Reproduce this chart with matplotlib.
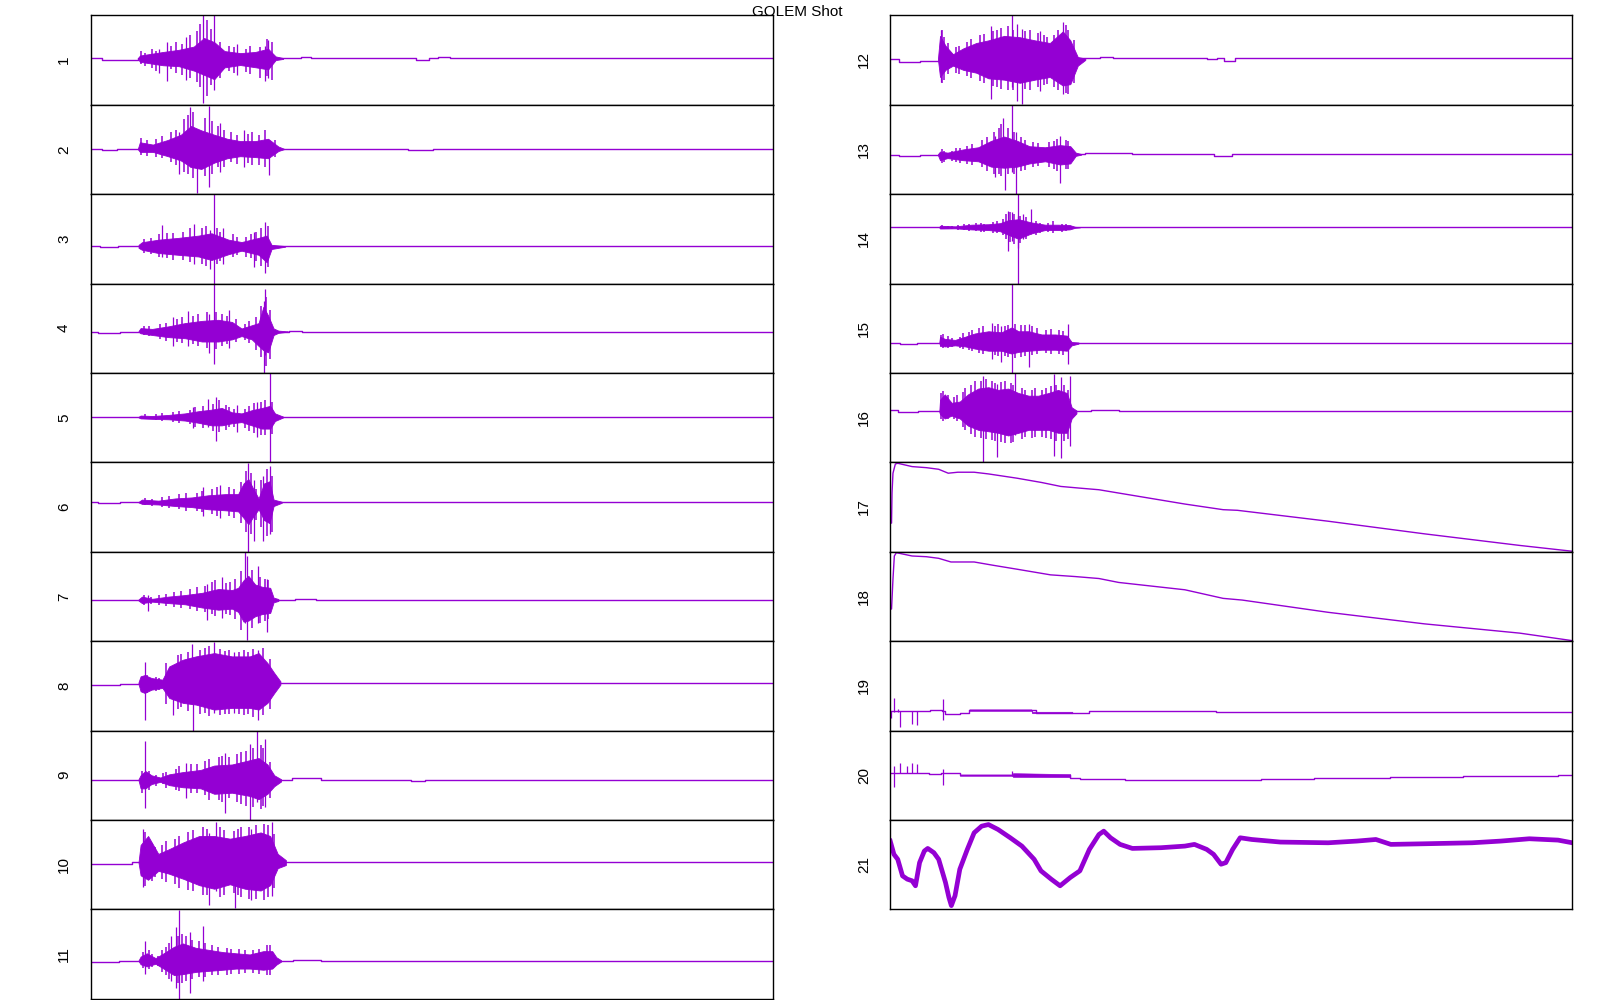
import matplotlib
matplotlib.use("Agg")
import matplotlib.pyplot as plt

# time in % of record, amplitude in % of the panel's autoscaled range
# env = dense core of each burst, spk = tallest single spikes, nz = other visible spikes
p1_base_t = [0, 1.6, 3.8, 6.9, 30.8, 32.3, 47.7, 49.6, 50.9, 52.6, 100]
p1_base_y = [51.7, 49.5, 50.5, 51.7, 53, 51.7, 50.5, 51.7, 53, 51.7, 51.7]
p1_env_t = [6.9, 7.2, 10.6, 12.9, 15.1, 16.6, 18.1, 19.6, 21.9, 24.1, 26.0, 27.1, 28.2]
p1_env_hi = [52, 55, 59, 61.4, 65, 74.6, 70, 60, 57.7, 59, 62.6, 54, 52.2]
p1_env_lo = [51.6, 48, 44.1, 43.1, 38.2, 33.4, 28.5, 41.7, 44.4, 41.9, 39.5, 49.9, 51.2]
p1_spk_t = [16.4, 18.1, 11.2, 21.5, 25.5, 26.0, 10.0, 14.0]
p1_spk_hi = [100, 100, 70, 68, 66, 72, 62, 76]
p1_spk_lo = [1.5, 16, 27, 33, 27, 30, 36, 28]
p1_nz_t = [7.3, 8.0, 9.0, 9.6, 11.8, 12.5, 13.4, 14.5, 15.6, 16.0, 17.0, 17.6, 19.0, 20.3, 21.0, 22.7, 23.4, 24.8, 25.8, 26.5]
p1_nz_hi = [60, 58, 62, 60, 66, 70, 68, 78, 82, 90, 95, 85, 70, 66, 64, 62, 66, 64, 74, 70]
p1_nz_lo = [45, 43, 41, 38, 40, 36, 33, 30, 25, 20, 10, 22, 30, 38, 35, 37, 34, 30, 32, 28]

p2_base_t = [0, 1.6, 3.9, 46.5, 50.2, 100]
p2_base_y = [50.5, 49.4, 50.5, 49, 50.5, 50.5]
p2_env_t = [6.9, 7.2, 9.1, 11.3, 13.2, 14.7, 16.2, 18.1, 20.0, 21.9, 24.1, 26.0, 27.5, 28.3]
p2_env_hi = [50.8, 58, 55.4, 60.6, 66.4, 76.2, 71.3, 66.4, 61.9, 59.3, 59.3, 61.9, 53.2, 50.8]
p2_env_lo = [50.2, 47.2, 47.2, 42.4, 37.6, 30.3, 28.1, 35.2, 40.1, 42.4, 41.4, 40.1, 48.2, 50.2]
p2_spk_t = [14.6, 15.6, 17.3, 13.0, 26.1, 19.0, 22.5]
p2_spk_hi = [97, 60, 99, 70, 60, 80, 72]
p2_spk_lo = [30, 1, 8, 23, 21, 25, 30]
p2_nz_t = [7.4, 8.2, 9.6, 10.4, 11.8, 12.5, 13.7, 14.2, 15.0, 16.8, 17.7, 18.7, 19.5, 20.5, 21.4, 23.0, 23.6, 24.7, 25.5, 27.0]
p2_nz_hi = [63, 60, 62, 65, 70, 72, 84, 88, 92, 85, 82, 76, 72, 70, 66, 67, 70, 66, 72, 60]
p2_nz_lo = [44, 43, 42, 40, 36, 33, 25, 22, 18, 20, 22, 30, 30, 36, 34, 35, 33, 33, 30, 42]

p3_base_t = [0, 1.4, 4.0, 100]
p3_base_y = [41.6, 40.4, 41.6, 41.6]
p3_env_t = [7.0, 7.5, 9.9, 12.8, 15.8, 17.7, 20.2, 22.1, 24.6, 25.8, 26.5, 28.5]
p3_env_hi = [43.2, 46.2, 49, 51, 53.6, 56.2, 49, 46.4, 51, 53.6, 43.2, 41.9]
p3_env_lo = [39.9, 37.7, 34.1, 32.1, 30.2, 26.3, 32.8, 36.7, 32.1, 23.7, 38.6, 41.2]
p3_spk_t = [18.0, 10.4, 25.6, 17.5, 23.9, 15.2, 19.4]
p3_spk_hi = [100, 65.5, 68.5, 60, 58, 66, 62]
p3_spk_lo = [0, 30, 12, 16, 19, 22, 22]
p3_nz_t = [7.8, 8.8, 10.0, 11.2, 12.0, 13.5, 14.5, 16.3, 16.9, 18.5, 19.0, 20.8, 21.5, 22.8, 23.5, 24.2, 25.0, 26.0]
p3_nz_hi = [50, 51, 55, 57, 56, 58, 62, 62, 64, 62, 58, 55, 52, 52, 55, 58, 62, 64]
p3_nz_lo = [34, 33, 30, 28, 26, 26, 24, 22, 20, 22, 25, 30, 32, 30, 28, 25, 20, 18]

p4_base_t = [0, 1.1, 4.3, 29, 31, 100]
p4_base_y = [46.3, 45.1, 46.3, 46.6, 46.3, 46.3]
p4_env_t = [7.0, 7.3, 9.0, 11.4, 13.8, 16.3, 18.7, 20.7, 22.1, 23.6, 24.6, 25.3, 26.0, 26.8, 27.5, 28.9]
p4_env_hi = [46.8, 50.1, 49.2, 52.1, 55.7, 58.2, 59.4, 57, 49.7, 53.3, 55.7, 73.9, 64.2, 49.7, 47.3, 46.4]
p4_env_lo = [46.1, 44.3, 42.4, 40, 38.8, 35.1, 35.1, 37.5, 41.2, 37.5, 30.2, 25.4, 23, 42.4, 44.8, 46.1]
p4_spk_t = [18.0, 25.6, 25.4, 14.3, 17.4, 20.2, 12.0]
p4_spk_hi = [100, 94.4, 80, 69.4, 66, 70.9, 62]
p4_spk_lo = [10.4, 20, 0, 30, 22.4, 28, 30]
p4_nz_t = [7.8, 8.5, 10.2, 11.0, 12.6, 13.3, 15.0, 15.7, 17.0, 18.4, 19.3, 20.0, 21.3, 22.6, 23.2, 24.2, 24.9, 25.7, 26.3]
p4_nz_hi = [53, 52, 55, 56, 60, 62, 64, 66, 68, 68, 66, 64, 60, 55, 58, 62, 75, 85, 70]
p4_nz_lo = [42, 41, 38, 36, 35, 33, 32, 30, 28, 27, 30, 32, 35, 37, 33, 26, 18, 8, 15]

p5_base_t = [0, 100]
p5_base_y = [50.6, 50.6]
p5_env_t = [7.0, 7.3, 9.0, 11.4, 13.8, 15.8, 17.7, 19.2, 20.7, 22.1, 23.6, 25.1, 26.3, 27.0, 28.2]
p5_env_hi = [50.9, 52.3, 51.8, 53, 54.7, 57.2, 58.9, 60.8, 55.9, 54.7, 58.3, 60.8, 63.2, 54.7, 51.1]
p5_env_lo = [50.2, 49.1, 48.6, 48.1, 46.7, 44.2, 41.3, 41.3, 43.7, 45, 41.3, 37.7, 37.7, 46.2, 50.2]
p5_spk_t = [26.3, 18.3, 17.2, 15.0, 24.4, 21.5]
p5_spk_hi = [100, 73, 70.8, 62, 68, 64]
p5_spk_lo = [0, 24.3, 40, 38, 28, 34]
p5_nz_t = [8.0, 9.5, 10.5, 12.0, 13.0, 14.5, 15.3, 16.5, 17.9, 18.8, 19.8, 20.3, 21.0, 22.6, 23.2, 24.0, 24.9, 25.6, 26.6]
p5_nz_hi = [54, 54, 55, 56, 57, 59, 62, 63, 65, 70, 64, 62, 60, 60, 63, 66, 68, 70, 68]
p5_nz_lo = [48, 47, 46, 45, 44, 43, 40, 38, 35, 34, 36, 39, 40, 38, 35, 33, 30, 30, 32]

p6_base_t = [0, 1.1, 4.3, 100]
p6_base_y = [55.2, 54.4, 55.2, 55.2]
p6_env_t = [7.0, 7.5, 9.9, 12.4, 14.8, 17.2, 19.7, 21.6, 22.4, 23.1, 23.9, 24.6, 25.4, 26.2, 26.8, 28.0]
p6_env_hi = [55.7, 58.3, 57.1, 59.6, 60.7, 63.1, 64.4, 64.4, 76.4, 81.2, 69.2, 59.6, 76.4, 78.8, 58.3, 55.9]
p6_env_lo = [55.1, 53.5, 52.8, 51.1, 49.9, 47.5, 46.3, 45.1, 37.8, 30.6, 40.2, 47.5, 35.4, 31.9, 51.1, 54.7]
p6_spk_t = [23.1, 26.2, 23.9, 25.2, 19.0, 16.5]
p6_spk_hi = [99, 96, 80, 85, 75, 72]
p6_spk_lo = [0, 20, 11.9, 12, 38, 40]
p6_nz_t = [8.0, 9.0, 10.5, 11.5, 13.0, 14.0, 15.5, 16.3, 17.8, 18.5, 20.2, 21.0, 22.0, 22.7, 23.5, 24.2, 25.0, 25.8, 26.5]
p6_nz_hi = [60, 59, 61, 62, 64, 66, 66, 68, 70, 72, 72, 70, 78, 90, 88, 70, 80, 92, 85]
p6_nz_lo = [52, 51, 50, 49, 48, 46, 45, 44, 42, 40, 40, 38, 32, 22, 20, 36, 28, 18, 22]

p7_base_t = [0, 30, 33, 100]
p7_base_y = [45.9, 47, 45.9, 45.9]
p7_env_t = [7.0, 7.5, 9.0, 11.4, 13.8, 16.3, 18.7, 20.7, 21.6, 22.4, 23.1, 24.1, 25.1, 26.3, 26.8, 27.5]
p7_env_hi = [46.6, 49.8, 47.3, 49.8, 51.5, 54, 58.3, 57.1, 59.6, 68.1, 73, 63.3, 60.8, 59.6, 48.6, 47.1]
p7_env_lo = [45.3, 42.5, 44.1, 42.5, 41.2, 37.6, 35.1, 36.3, 32.7, 21.7, 22.9, 27.8, 30.2, 31.5, 43.4, 44.9]
p7_spk_t = [22.6, 22.9, 24.5, 25.8, 8.4, 19.2, 17.0]
p7_spk_hi = [100, 95, 83.8, 70, 52, 72, 64]
p7_spk_lo = [20, 1, 20, 10.5, 34.2, 26, 24]
p7_nz_t = [7.8, 8.8, 10.0, 11.0, 12.2, 13.2, 14.5, 15.5, 16.8, 17.8, 18.2, 19.8, 20.4, 21.2, 22.0, 23.6, 24.8, 25.5, 26.0]
p7_nz_hi = [52, 49, 52, 53, 55, 56, 58, 60, 62, 66, 68, 65, 66, 70, 78, 80, 72, 70, 68]
p7_nz_lo = [40, 42, 40, 39, 38, 37, 36, 34, 32, 30, 28, 30, 29, 25, 12, 15, 20, 22, 25]

p8_base_t = [0, 4.3, 7.0, 100]
p8_base_y = [51.3, 52.5, 53.2, 53.2]
p8_env_t = [7.0, 7.3, 7.9, 8.9, 10.5, 11.5, 13.5, 15.4, 18.1, 20.7, 23.3, 24.6, 25.9, 26.9, 27.8]
p8_env_hi = [54, 60.6, 62, 58.7, 56.9, 71.7, 79.2, 82.9, 86.6, 82.9, 82.9, 86.6, 75.5, 64.3, 55]
p8_env_lo = [52, 43.9, 42, 45.7, 47.6, 36.4, 30.9, 29, 23.4, 25.3, 25.3, 23.4, 30.9, 42, 51.3]
p8_spk_t = [7.9, 14.8, 15.0, 18.0, 12.0, 24.5, 21.0]
p8_spk_hi = [77, 97, 60, 99.3, 70, 90, 88]
p8_spk_lo = [12.3, 30, 0, 20, 17.8, 12.3, 20]
p8_nz_t = [8.3, 9.5, 10.0, 11.0, 12.8, 13.2, 14.2, 16.0, 16.8, 17.4, 19.0, 19.7, 20.2, 21.7, 22.4, 23.0, 23.8, 25.2, 26.2]
p8_nz_hi = [62, 60, 59, 76, 84, 86, 88, 90, 92, 94, 91, 89, 90, 88, 90, 88, 91, 92, 80]
p8_nz_lo = [42, 44, 45, 30, 24, 26, 22, 18, 20, 16, 17, 19, 18, 18, 17, 19, 15, 17, 24]

p9_base_t = [0, 29.5, 33.8, 47, 49, 100]
p9_base_y = [44.8, 46.7, 44.8, 43.8, 44.8, 44.8]
p9_env_t = [7.0, 7.3, 8.0, 8.9, 10.2, 11.5, 13.5, 16.1, 18.1, 20.7, 23.3, 24.6, 25.9, 26.9, 27.9]
p9_env_hi = [45.6, 49.9, 54.7, 49.9, 47.4, 51, 53.5, 55.9, 60.8, 62, 66.8, 69.2, 62, 49.9, 45.5]
p9_env_lo = [44.3, 35.3, 35.2, 40.1, 42.6, 38.9, 36.5, 35.3, 29.2, 30.4, 26.8, 23.2, 29.2, 37.7, 43]
p9_spk_t = [8.0, 24.3, 23.3, 19.7, 25.5, 14.0]
p9_spk_hi = [88.8, 99.2, 85, 75, 90, 64]
p9_spk_lo = [13.4, 20, 0.3, 7.8, 14, 25]
p9_nz_t = [7.5, 8.5, 9.5, 10.6, 11.0, 12.5, 13.0, 14.7, 15.5, 16.8, 17.4, 18.8, 19.3, 20.2, 21.4, 22.0, 22.7, 23.8, 24.9, 25.3, 26.3]
p9_nz_hi = [55, 55, 50, 52, 54, 57, 60, 62, 63, 66, 68, 70, 72, 70, 74, 76, 77, 80, 84, 80, 65]
p9_nz_lo = [30, 34, 38, 40, 36, 33, 32, 30, 30, 28, 22, 22, 20, 24, 20, 18, 16, 14, 12, 16, 25]

p10_base_t = [0, 6.0, 100]
p10_base_y = [51, 52.5, 52.5]
p10_env_t = [7.0, 7.3, 8.4, 9.9, 11.4, 13.6, 15.9, 18.1, 20.4, 22.6, 24.9, 26.3, 27.4, 28.6]
p10_env_hi = [53, 72, 82, 62, 67, 75, 82, 82, 79, 82, 86, 82, 62, 55]
p10_env_lo = [52, 38, 33, 43, 40, 34, 27, 23, 28, 23, 21, 27, 46, 49.5]
p10_spk_t = [18.4, 21.1, 26.6, 17.4, 7.6, 23.5]
p10_spk_hi = [98, 80, 98, 85, 90, 90]
p10_spk_lo = [20, 1, 15, 5, 25, 10]
p10_nz_t = [7.9, 8.9, 9.4, 10.4, 11.0, 12.3, 13.0, 14.3, 15.0, 16.4, 17.0, 18.9, 19.5, 21.0, 21.6, 22.0, 23.2, 24.2, 25.4, 26.0, 26.9]
p10_nz_hi = [86, 74, 70, 72, 76, 79, 82, 86, 89, 92, 90, 92, 89, 88, 90, 92, 92, 94, 95, 94, 84]
p10_nz_lo = [26, 32, 36, 34, 30, 28, 24, 22, 20, 16, 16, 14, 16, 18, 16, 14, 12, 11, 10, 14, 24]

p11_base_t = [0, 4.1, 29.6, 33.8, 100]
p11_base_y = [41.2, 42.5, 43.6, 42.5, 42.5]
p11_env_t = [7.0, 7.3, 8.2, 9.5, 11.2, 12.2, 13.5, 15.4, 17.4, 19.4, 21.3, 23.3, 25.3, 26.6, 27.2, 27.9]
p11_env_hi = [42.8, 47.1, 50.8, 45.4, 53.2, 58.1, 61.8, 56.9, 54.5, 52.1, 50.8, 49.5, 53.2, 53.2, 46.4, 43]
p11_env_lo = [42.2, 38.5, 36.1, 39.1, 31.2, 26.4, 27.5, 30, 31.2, 32.4, 33.7, 33.7, 32.4, 33.7, 38.1, 41.5]
p11_spk_t = [13.0, 12.5, 14.6, 16.5, 8.0, 11.8]
p11_spk_hi = [99.5, 80, 75, 81.5, 64, 70]
p11_spk_lo = [0, 12, 6.4, 20, 28, 20]
p11_nz_t = [7.6, 8.6, 9.0, 9.9, 10.5, 11.0, 11.5, 12.8, 13.3, 14.0, 14.9, 15.8, 16.8, 17.8, 18.6, 19.9, 20.6, 21.8, 22.6, 23.8, 24.6, 25.8, 26.3]
p11_nz_hi = [52, 54, 50, 48, 55, 58, 62, 70, 72, 70, 66, 64, 62, 60, 58, 57, 56, 56, 54, 54, 56, 60, 60]
p11_nz_lo = [34, 33, 36, 37, 30, 26, 22, 18, 18, 20, 22, 24, 24, 26, 26, 27, 28, 28, 29, 29, 28, 26, 27]

p12_base_t = [0, 1.35, 4.3, 7.1, 30.8, 32.6, 46.4, 47.9, 49.0, 50.5, 100]
p12_base_y = [50.6, 47.9, 49.4, 51.7, 52.8, 51.7, 50.6, 51.7, 49.4, 51.7, 51.7]
p12_env_t = [7.0, 7.3, 8.1, 9.2, 10.7, 12.6, 14.4, 16.7, 19.0, 21.2, 23.4, 25.3, 26.4, 27.5, 28.6]
p12_env_hi = [52, 77, 66, 56.5, 63, 69, 72, 77, 75.5, 72, 69, 82, 72, 53.3, 51.7]
p12_env_lo = [50.2, 31, 39, 43.7, 39, 35.8, 29.5, 28, 24.5, 28, 31, 21.5, 23, 43.7, 50.1]
p12_spk_t = [17.8, 19.3, 14.7, 25.3, 7.5, 21.9, 18.6]
p12_spk_hi = [100, 85, 88, 92, 84, 82, 90]
p12_spk_lo = [20, 1.1, 6.7, 12, 25, 15, 4]
p12_nz_t = [7.6, 7.9, 8.5, 9.6, 10.1, 11.2, 11.9, 13.1, 13.7, 15.0, 15.6, 16.2, 17.3, 18.0, 19.8, 20.5, 21.6, 22.5, 23.0, 24.0, 24.6, 25.8, 26.0, 26.9]
p12_nz_hi = [84, 76, 69, 64, 66, 70, 74, 78, 79, 82, 84, 86, 88, 84, 82, 84, 80, 78, 76, 78, 84, 89, 84, 72]
p12_nz_lo = [24, 28, 34, 36, 34, 32, 30, 26, 24, 21, 20, 18, 16, 16, 18, 16, 20, 22, 23, 20, 16, 13, 12, 24]

p13_base_t = [0, 1.35, 4.3, 7.1, 28.6, 35.4, 47.5, 50.1, 72.4, 100]
p13_base_y = [43.7, 42.6, 44, 44.4, 45.9, 44.4, 43, 45, 44.4, 44.4]
p13_env_t = [7.0, 7.3, 8.4, 10.7, 12.9, 14.8, 16.7, 18.6, 20.4, 22.7, 24.9, 26.4, 27.2, 28.0]
p13_env_hi = [44.8, 47.6, 46.4, 50, 52.4, 59.6, 64.4, 59.6, 53.6, 52.4, 54.8, 53.6, 46.4, 44.8]
p13_env_lo = [43.5, 37.9, 40.3, 37.9, 36.7, 30.7, 29.5, 30.7, 34.3, 36.7, 33.1, 34.3, 42.8, 44.1]
p13_spk_t = [17.8, 18.5, 16.6, 16.8, 15.3, 24.9]
p13_spk_hi = [100, 70, 85.6, 60, 65, 64.8]
p13_spk_lo = [25, 0, 30, 4.8, 19.6, 12.2]
p13_nz_t = [7.6, 7.9, 9.0, 9.7, 10.2, 11.3, 12.0, 13.5, 14.2, 15.2, 15.9, 16.3, 17.2, 18.2, 19.2, 19.8, 21.0, 21.7, 23.3, 24.0, 24.5, 25.7, 26.1]
p13_nz_hi = [50, 48, 48, 52, 52, 54, 56, 60, 64, 70, 74, 78, 74, 70, 64, 60, 58, 57, 58, 59, 62, 60, 59]
p13_nz_lo = [35, 36, 37, 36, 35, 34, 33, 30, 26, 22, 22, 20, 22, 22, 26, 27, 30, 31, 30, 28, 26, 28, 28]

p14_base_t = [0, 100]
p14_base_y = [62.9, 62.9]
p14_env_t = [7.2, 7.3, 9.5, 11.9, 14.4, 16.1, 17.3, 18.8, 20.7, 22.7, 24.6, 26.3, 27.1, 27.8]
p14_env_hi = [63.3, 64.6, 63.9, 65.8, 66.3, 67.5, 70.8, 71.9, 68.3, 65.8, 65.8, 65.4, 63.4, 63.1]
p14_env_lo = [62.6, 61.5, 61.7, 60.5, 59.8, 58.5, 54.5, 50, 56.1, 59.8, 59.8, 60.5, 62.3, 62.7]
p14_spk_t = [18.7, 20.7, 17.2, 18.8, 17.8, 19.5]
p14_spk_hi = [100, 83.5, 81.6, 76, 80, 78]
p14_spk_lo = [0, 55, 36.7, 39.3, 48, 50]
p14_nz_t = [7.6, 8.4, 9.0, 10.0, 10.8, 11.5, 12.5, 13.3, 13.8, 15.0, 15.6, 16.6, 17.0, 17.5, 18.2, 19.0, 19.9, 21.3, 22.0, 23.2, 23.8, 25.2, 25.8]
p14_nz_hi = [65, 64, 64, 65, 66, 67, 68, 68, 67, 69, 70, 72, 78, 80, 78, 76, 74, 70, 68, 68, 70, 67, 67]
p14_nz_lo = [61, 61, 61, 60, 60, 59, 59, 58, 58, 57, 56, 54, 50, 46, 44, 45, 50, 54, 56, 58, 57, 58, 59]

p15_base_t = [0, 1.4, 3.9, 100]
p15_base_y = [34, 32.8, 34, 34]
p15_env_t = [7.2, 7.3, 8.0, 9.5, 11.0, 12.4, 14.4, 16.3, 17.8, 18.8, 20.3, 22.2, 24.2, 25.9, 26.6, 27.6]
p15_env_hi = [34.7, 40.5, 38.1, 36.9, 40.5, 44.1, 46.6, 45.4, 50.9, 46.6, 46.6, 43, 43, 41.7, 34.5, 34]
p15_env_lo = [33.3, 30.8, 29.6, 30.8, 29.6, 27.2, 24.8, 24.8, 21.6, 23.5, 24.8, 25.9, 25.9, 24.8, 30.8, 32.7]
p15_spk_t = [17.8, 14.9, 20.3, 26.0, 16.2]
p15_spk_hi = [98.9, 56.3, 55, 55, 52]
p15_spk_lo = [0, 15, 6.7, 9.7, 12]
p15_nz_t = [7.5, 7.7, 8.5, 9.0, 10.2, 10.6, 11.6, 12.0, 13.0, 13.6, 15.3, 15.8, 16.8, 17.3, 18.3, 19.2, 19.8, 20.8, 21.5, 22.8, 23.5, 24.7, 25.4]
p15_nz_hi = [42, 44, 41, 39, 40, 45, 46, 48, 50, 52, 53, 55, 52, 54, 55, 54, 54, 52, 50, 48, 49, 48, 47]
p15_nz_lo = [29, 28, 28, 29, 28, 27, 26, 24, 22, 21, 20, 19, 19, 18, 17, 18, 19, 20, 21, 22, 21, 21, 20]

p16_base_t = [0, 1.1, 4.1, 7.2, 29.5, 33.5, 100]
p16_base_y = [58.8, 56.2, 57.8, 57.3, 58.4, 57.3, 57.3]
p16_env_t = [7.2, 7.3, 8.0, 9.0, 10.2, 11.4, 12.9, 14.4, 15.8, 17.3, 18.8, 20.3, 21.7, 23.2, 24.6, 25.9, 26.6, 27.3]
p16_env_hi = [58, 70, 76, 66.5, 68, 76, 82.5, 84, 81, 82.5, 77.5, 74.5, 74.5, 77.5, 81, 77.5, 61.5, 58]
p16_env_lo = [56.2, 53.8, 49, 52.2, 49, 41, 36.3, 34.7, 33, 30, 33, 36.3, 36.3, 36.3, 33, 33, 49, 54.7]
p16_spk_t = [13.6, 18.3, 24.0, 25.0, 15.7, 26.4]
p16_spk_hi = [97, 100, 99.3, 95, 88, 96]
p16_spk_lo = [0.7, 30, 7.1, 4.5, 5.6, 18.4]
p16_nz_t = [7.5, 7.8, 8.5, 9.4, 9.8, 10.7, 11.0, 11.9, 12.4, 13.3, 14.0, 14.9, 15.3, 16.3, 16.8, 17.7, 18.0, 19.3, 19.8, 20.8, 21.2, 22.3, 22.8, 23.6, 24.3, 25.5, 26.0]
p16_nz_hi = [78, 80, 75, 73, 75, 79, 83, 87, 91, 91, 93, 91, 89, 90, 91, 89, 87, 83, 81, 81, 83, 81, 83, 85, 87, 87, 81]
p16_nz_lo = [48, 46, 48, 48, 46, 40, 36, 32, 28, 27, 26, 25, 24, 23, 22, 22, 23, 26, 28, 27, 28, 28, 27, 26, 24, 24, 26]

p17_t = [0, 0.19, 0.26, 0.4, 0.75, 1.1, 3.2, 5.3, 7.1, 8.5, 9.9, 12.3, 14.4, 18.6, 22.2,
         25.0, 27.8, 30.6, 33.5, 43.2, 48.8, 50.9, 64.2, 78.3, 92.3, 100]
p17_y = [32, 32, 65.6, 87.8, 98.1, 98.9, 95.2, 94, 92.2, 87.8, 88.9, 88.9, 87, 82.2, 77.4,
         73, 71.1, 69.3, 65.6, 53.3, 47, 46.3, 34.1, 20, 7, 0.5]

p18_t = [0, 0.19, 0.4, 0.6, 0.9, 3.2, 5.3, 7.1, 8.9, 12.3, 15.1, 18.6, 23.5, 27.1, 30.6,
         33.5, 43.2, 48.8, 51.6, 64.2, 78.3, 92.3, 100]
p18_y = [35.9, 35.9, 69.3, 95.2, 98.9, 95.2, 94.4, 92.6, 88.5, 88.5, 84.8, 80.4, 74.1, 72.2,
         70, 65.6, 57.4, 47.8, 45.9, 32.2, 19.3, 8.9, 0.5]

p19_t = [0, 5.7, 5.9, 6.7, 7.6, 8.1, 10.2, 11.6, 20.7, 21.4, 26.7, 29.2, 47.8, 49.9, 100]
p19_y = [21.5, 21.5, 23, 23, 21.5, 18.5, 19.5, 22.6, 22.6, 20, 20, 21.5, 20.4, 21.1, 21.1]
p19_band_t = [11.6, 20.7, 20.8, 26.7]
p19_band_hi = [23.6, 23.6, 21, 21]
p19_band_lo = [22, 22, 19.3, 19.3]
p19_spk_t = [0.1, 0.6, 1.1, 1.5, 3.2, 3.9, 7.8]
p19_spk_hi = [21.5, 35.9, 23.7, 21.5, 21.5, 21.5, 34.8]
p19_spk_lo = [14.4, 21, 21, 4.1, 7, 6.3, 11.9]

p20_t = [0, 5.7, 7.4, 8.1, 10.2, 17.9, 26.4, 27.8, 34.4, 54.4, 62.1, 73.3, 83.9, 97.9, 100]
p20_y = [52.8, 50.9, 52.1, 52.1, 50, 50, 47.2, 46.1, 44.6, 45.3, 46.8, 47.9, 49.1, 50.2, 50.2]
p20_band_t = [10.2, 17.9, 18.0, 26.4]
p20_band_hi = [50.8, 50.8, 52.3, 51.2]
p20_band_lo = [49.4, 49.4, 48.0, 47.8]
p20_spk_t = [0.6, 1.5, 2.4, 3.2, 3.9, 7.8, 17.9]
p20_spk_hi = [60.3, 63.3, 60.3, 63.3, 62.5, 57.3, 55]
p20_spk_lo = [37.1, 52.8, 52.8, 52.8, 52.8, 39.3, 49]

p21_t = [0, 0.54, 1.1, 1.8, 2.5, 3.2, 3.7, 4.3, 5.0, 5.5, 6.4, 7.1, 7.6, 8.1, 8.6, 8.96,
         9.5, 10.2, 11.3, 12.3, 13.4, 14.4, 15.8, 17.6, 19.3, 21.1, 22.1, 23.6, 24.9, 26.4,
         27.8, 29.2, 30.6, 31.3, 32.3, 33.7, 35.5, 39.7, 43.2, 44.6, 46.4, 47.4, 48.5, 49.2,
         50.2, 51.3, 53.0, 57.2, 64.2, 68.4, 71.2, 73.4, 78.3, 85.3, 89.5, 93.7, 97.9, 100]
p21_y = [76.3, 61.5, 55.9, 37.4, 33.7, 31.9, 26.3, 52.2, 65.2, 68.1, 63.3, 55.9, 43, 30,
         13.3, 4.1, 15.2, 44.8, 67, 85.6, 93, 94.8, 89.3, 80, 70.7, 55.9, 43, 33.7, 26.3,
         35.6, 43, 67, 83.7, 87.4, 80, 72.6, 68.1, 68.9, 70.7, 72.6, 67, 61.5, 50.4, 52.2,
         67, 80, 78.1, 75.2, 74.4, 76.3, 78.1, 72.6, 73.3, 74.4, 76.3, 78.9, 77.4, 74.4]

purple = "#9400D3"
g = globals()

fig = plt.figure(figsize=(16, 10), dpi=100)
plt.rcParams["font.family"] = ["Liberation Sans", "DejaVu Sans"]

h = 0.0894
top0 = 1 - 0.0153


def make_ax(k):
    if k <= 11:
        left, row = 0.05675, k - 1
        lab_x = 0.040
    else:
        left, row = 0.5564, k - 12
        lab_x = 0.540
    bottom = top0 - (row + 1) * h
    ax = fig.add_axes([left, bottom, 0.4263, h])
    ax.set_xlim(0, 100)
    ax.set_ylim(0, 100)
    ax.set_xticks([])
    ax.set_yticks([])
    for s in ax.spines.values():
        s.set_linewidth(1.0)
        s.set_color("black")
    fig.text(lab_x, bottom + h / 2, str(k), rotation=90, ha="center",
             va="center", fontsize=11)
    return ax


for k in range(1, 17):
    ax = make_ax(k)
    ax.plot(g[f"p{k}_base_t"], g[f"p{k}_base_y"], color=purple, lw=1.0,
            drawstyle="steps-post")
    ax.fill_between(g[f"p{k}_env_t"], g[f"p{k}_env_lo"], g[f"p{k}_env_hi"],
                    color=purple, lw=0.6)
    ax.vlines(g[f"p{k}_nz_t"], g[f"p{k}_nz_lo"], g[f"p{k}_nz_hi"],
              color=purple, lw=1.1)
    ax.vlines(g[f"p{k}_spk_t"], g[f"p{k}_spk_lo"], g[f"p{k}_spk_hi"],
              color=purple, lw=0.9)

for k in (17, 18):
    ax = make_ax(k)
    ax.plot(g[f"p{k}_t"], g[f"p{k}_y"], color=purple, lw=1.0)

for k in (19, 20):
    ax = make_ax(k)
    ax.plot(g[f"p{k}_t"], g[f"p{k}_y"], color=purple, lw=1.0,
            drawstyle="steps-post")
    ax.fill_between(g[f"p{k}_band_t"], g[f"p{k}_band_lo"], g[f"p{k}_band_hi"],
                    color=purple, lw=0.4)
    ax.vlines(g[f"p{k}_spk_t"], g[f"p{k}_spk_lo"], g[f"p{k}_spk_hi"],
              color=purple, lw=0.9)

ax = make_ax(21)
ax.plot(p21_t, p21_y, color=purple, lw=3.4)

fig.text(0.498, 1 - 0.0122, "GOLEM Shot", ha="center", va="center", fontsize=11)

fig.savefig("out.png", dpi=100)
